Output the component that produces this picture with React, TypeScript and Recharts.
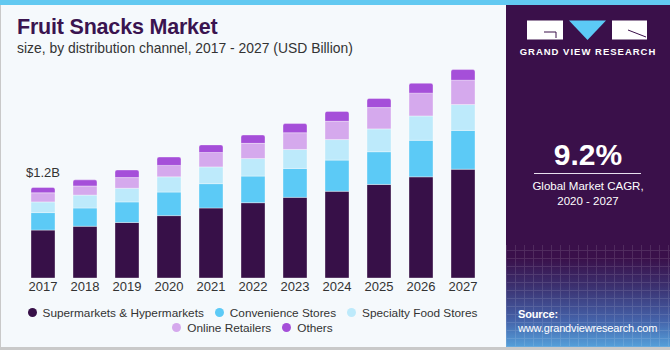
import React from 'react';
import { BarChart, Bar, XAxis, YAxis, LabelList } from 'recharts';

const years = ['2017', '2018', '2019', '2020', '2021', '2022', '2023', '2024', '2025', '2026', '2027'];
const supermarkets = [0.63, 0.68, 0.73, 0.82, 0.92, 0.99, 1.06, 1.14, 1.23, 1.33, 1.43];
const convenience = [0.23, 0.24, 0.27, 0.31, 0.32, 0.35, 0.38, 0.41, 0.43, 0.48, 0.51];
const specialty = [0.14, 0.17, 0.18, 0.2, 0.22, 0.23, 0.25, 0.27, 0.3, 0.32, 0.34];
const online = [0.12, 0.12, 0.14, 0.15, 0.19, 0.2, 0.22, 0.24, 0.28, 0.3, 0.32];
const others = [0.07, 0.08, 0.1, 0.11, 0.1, 0.11, 0.12, 0.13, 0.12, 0.13, 0.14];
const valueLabels = ['$1.2B', '', '', '', '', '', '', '', '', '', ''];

const seriesNames = ['Supermarkets & Hypermarkets', 'Convenience Stores', 'Specialty Food Stores', 'Online Retailers', 'Others'];
const seriesKeys = ['supermarkets', 'convenience', 'specialty', 'online', 'others'];
const seriesColors = ['#371048', '#5ccaf6', '#bdeafb', '#d5a9ed', '#a54fd9'];

const data = years.map((year, i) => ({
  year,
  supermarkets: supermarkets[i],
  convenience: convenience[i],
  specialty: specialty[i],
  online: online[i],
  others: others[i],
  label: valueLabels[i],
}));

const FONT = '"Liberation Sans", Arial, sans-serif';

const TopLabel = (props: any) => {
  const { x, y, width, value } = props;
  if (!value) return null;
  return (
    <text x={Number(x) + Number(width) / 2} y={Number(y) - 10} textAnchor="middle" fontSize={13} fill="#333" fontFamily={FONT}>
      {value}
    </text>
  );
};

const legendRow1 = [0, 1, 2];
const legendRow2 = [3, 4];

const LegendItem = ({ idx }: { idx: number }) => (
  <div style={{ display: 'flex', alignItems: 'center', marginRight: 11 }}>
    <span style={{ width: 9, height: 9, borderRadius: '50%', background: seriesColors[idx], display: 'inline-block', marginRight: 6 }} />
    <span>{seriesNames[idx]}</span>
  </div>
);

export default function App() {
  return (
    <div style={{ position: 'absolute', left: 0, top: 0, width: 670, height: 350, background: '#f5f9fc', overflow: 'hidden', fontFamily: FONT }}>
      {/* top strip */}
      <div style={{ position: 'absolute', left: 0, top: 0, width: 670, height: 5, background: '#62c9f1' }} />
      {/* borders */}
      <div style={{ position: 'absolute', left: 0, top: 5, width: 1, height: 345, background: '#c9c9c9' }} />
      <div style={{ position: 'absolute', left: 0, top: 347, width: 670, height: 3, background: '#c9c9c9' }} />

      {/* title */}
      <div style={{ position: 'absolute', left: 17, top: 15, fontSize: 21.5, fontWeight: 700, color: '#3a1450', letterSpacing: -0.2, whiteSpace: 'nowrap' }}>
        Fruit Snacks Market
      </div>
      <div style={{ position: 'absolute', left: 17, top: 40, fontSize: 13.9, color: '#333', whiteSpace: 'nowrap' }}>
        size, by distribution channel, 2017 - 2027 (USD Billion)
      </div>

      {/* chart */}
      <div style={{ position: 'absolute', left: 0, top: 0 }}>
        <BarChart width={500} height={300} data={data} margin={{ top: 65, right: 16, bottom: 2, left: 22 }}>
          <XAxis
            dataKey="year"
            axisLine={false}
            tickLine={false}
            tickSize={0}
            tickMargin={4}
            height={20}
            interval={0}
            tick={{ fontSize: 13, fill: '#333', fontFamily: FONT }}
          />
          <YAxis hide domain={[0, 2.8]} allowDataOverflow />
          {seriesKeys.map((k, i) => (
            <Bar
              key={k}
              dataKey={k}
              name={seriesNames[i]}
              stackId="a"
              fill={seriesColors[i]}
              barSize={24}
              stroke="rgba(255,255,255,0.35)"
              strokeWidth={1}
              radius={i === 4 ? [2, 2, 0, 0] : 0}
              isAnimationActive={false}
            >
              {i === 4 ? <LabelList dataKey="label" content={TopLabel} /> : null}
            </Bar>
          ))}
        </BarChart>
      </div>

      {/* legend */}
      <div style={{ position: 'absolute', left: 0, top: 305, width: 505, fontSize: 11.8, color: '#333' }}>
        <div style={{ display: 'flex', justifyContent: 'center', height: 15, paddingLeft: 11 }}>
          {legendRow1.map((i) => <LegendItem key={i} idx={i} />)}
        </div>
        <div style={{ display: 'flex', justifyContent: 'center', height: 15, paddingLeft: 11 }}>
          {legendRow2.map((i) => <LegendItem key={i} idx={i} />)}
        </div>
      </div>

      {/* right panel */}
      <div
        style={{
          position: 'absolute',
          left: 506,
          top: 5,
          width: 164,
          height: 342,
          background: 'linear-gradient(to bottom, #3a104a 0%, #3a104a 74%, #3b2f6e 82%, #4461a8 92%, #55a0da 100%)',
          color: '#fff',
        }}
      >
        <div
          style={{
            position: 'absolute',
            left: 0,
            top: 240,
            width: 164,
            height: 102,
            opacity: 0.12,
            backgroundImage:
              'repeating-linear-gradient(90deg, rgba(255,255,255,0.9) 0 1px, transparent 1px 9px), repeating-linear-gradient(0deg, rgba(255,255,255,0.9) 0 1px, transparent 1px 8px)',
          }}
        />
        <svg width={164} height={60} style={{ position: 'absolute', left: 0, top: 0 }}>
          <rect x={21} y={15.5} width={36} height={19} fill="#ffffff" />
          <polyline points="38,27 50,27 50,33" fill="none" stroke="#3a104a" strokeWidth={1} />
          <polygon points="63,15.5 100,15.5 81.5,35" fill="#5ccaf6" />
          <rect x={106} y={15.5} width={35} height={19} fill="#ffffff" />
          <line x1={122} y1={25} x2={140} y2={32} stroke="#3a104a" strokeWidth={1} />
        </svg>
        <div style={{ position: 'absolute', left: 0, top: 41, width: 164, textAlign: 'center', fontSize: 9.5, fontWeight: 700, letterSpacing: 1, whiteSpace: 'nowrap' }}>
          GRAND VIEW RESEARCH
        </div>
        <div style={{ position: 'absolute', left: 0, top: 133, width: 164, textAlign: 'center', fontSize: 30, fontWeight: 700 }}>
          9.2%
        </div>
        <div style={{ position: 'absolute', left: 28, top: 168, width: 107, height: 1, background: '#e8e0ee' }} />
        <div style={{ position: 'absolute', left: 0, top: 174, width: 164, textAlign: 'center', fontSize: 11.5, lineHeight: '15px' }}>
          Global Market CAGR,
          <br />
          2020 - 2027
        </div>
        <div style={{ position: 'absolute', left: 12, top: 302, fontSize: 11, lineHeight: '14px', letterSpacing: -0.15, whiteSpace: 'nowrap' }}>
          <div style={{ fontWeight: 700 }}>Source:</div>
          <div>www.grandviewresearch.com</div>
        </div>
      </div>
    </div>
  );
}
